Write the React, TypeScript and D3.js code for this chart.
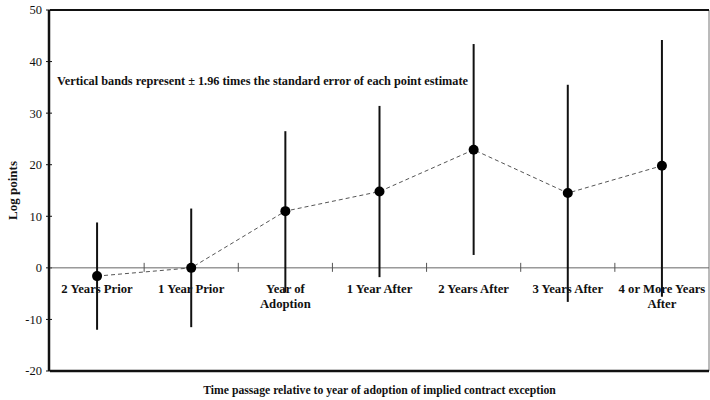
import React from "react";
import * as d3 from "d3";

const categories = [
  ["2 Years Prior"],
  ["1 Year Prior"],
  ["Year of", "Adoption"],
  ["1 Year After"],
  ["2 Years After"],
  ["3 Years After"],
  ["4 or More Years", "After"],
];
const estimates = [-1.6, 0, 11, 14.8, 22.9, 14.5, 19.8];
const upper = [8.8, 11.5, 26.5, 31.4, 43.4, 35.5, 44.2];
const lower = [-12, -11.5, -4.8, -1.8, 2.5, -6.6, -5.6];
const yTicks = [50, 40, 30, 20, 10, 0, -10, -20];

const W = 710, H = 400;
const m = { left: 50, right: 709, top: 10, bottom: 371 };
const serif = "'Liberation Serif', 'Times New Roman', serif";

export default function App() {
  const x = d3
    .scaleBand<number>()
    .domain(categories.map((_, i) => i))
    .range([m.left, m.right])
    .padding(0);
  const y = d3.scaleLinear().domain([-20, 50]).range([m.bottom, m.top]);
  const cx = (i: number) => (x(i) as number) + x.bandwidth() / 2;
  const line = d3
    .line<number>()
    .x((_, i) => cx(i))
    .y((d) => y(d));
  const y0 = y(0);

  return (
    <svg
      width={W}
      height={H}
      style={{ position: "absolute", left: 0, top: 0, background: "#fff" }}
      fontFamily={serif}
    >
      {/* frame */}
      <line x1={m.right} x2={m.right} y1={m.top} y2={m.bottom} stroke="#777" strokeWidth={1} />
      <line x1={m.left} x2={m.right} y1={m.top} y2={m.top} stroke="#111" strokeWidth={2} />
      <line x1={m.left} x2={m.right} y1={m.bottom} y2={m.bottom} stroke="#111" strokeWidth={2.5} />
      <line x1={m.left - 1} x2={m.left - 1} y1={m.top} y2={m.bottom} stroke="#111" strokeWidth={2.5} />

      {/* y ticks */}
      {yTicks.map((t) => (
        <g key={t}>
          <line x1={m.left - 4} x2={m.left + 2} y1={y(t)} y2={y(t)} stroke="#111" strokeWidth={1} />
          <text x={42} y={y(t)} dy="0.35em" textAnchor="end" fontSize={12.5} fill="#111">
            {t}
          </text>
        </g>
      ))}

      {/* zero line */}
      <line x1={m.left} x2={m.right} y1={y0} y2={y0} stroke="#666" strokeWidth={1} />
      {categories.slice(1).map((_, i) => {
        const bx = x(i + 1) as number;
        return <line key={i} x1={bx} x2={bx} y1={y0 - 5} y2={y0 + 4} stroke="#555" strokeWidth={1} />;
      })}

      {/* y label */}
      <text
        transform={`translate(17,${(m.top + m.bottom) / 2}) rotate(-90)`}
        textAnchor="middle"
        fontSize={13}
        fontWeight="bold"
        fill="#111"
      >
        Log points
      </text>

      {/* annotation */}
      <text x={57} y={85} fontSize={12} textLength={411} lengthAdjust="spacingAndGlyphs" fontWeight="bold" fill="#111">
        Vertical bands represent ± 1.96 times the standard error of each point estimate
      </text>

      {/* category labels */}
      {categories.map((lines, i) => (
        <text key={i} textAnchor="middle" fontSize={12.7} fontWeight="bold" fill="#111">
          {lines.map((l, j) => (
            <tspan key={j} x={cx(i)} y={y0 + 25 + j * 15}>
              {l}
            </tspan>
          ))}
        </text>
      ))}

      {/* error bars */}
      {estimates.map((_, i) => (
        <line
          key={i}
          x1={cx(i)}
          x2={cx(i)}
          y1={y(upper[i])}
          y2={y(lower[i])}
          stroke="#111"
          strokeWidth={2}
        />
      ))}

      {/* dashed line */}
      <path d={line(estimates) || ""} fill="none" stroke="#555" strokeWidth={1} strokeDasharray="4,3" />

      {/* points */}
      {estimates.map((v, i) => (
        <circle key={i} cx={cx(i)} cy={y(v)} r={5} fill="#000" />
      ))}

      {/* x title */}
      <text x={(m.left + m.right) / 2} y={394} textAnchor="middle" fontSize={11.7} fontWeight="bold" fill="#111">
        Time passage relative to year of adoption of implied contract exception
      </text>
    </svg>
  );
}
